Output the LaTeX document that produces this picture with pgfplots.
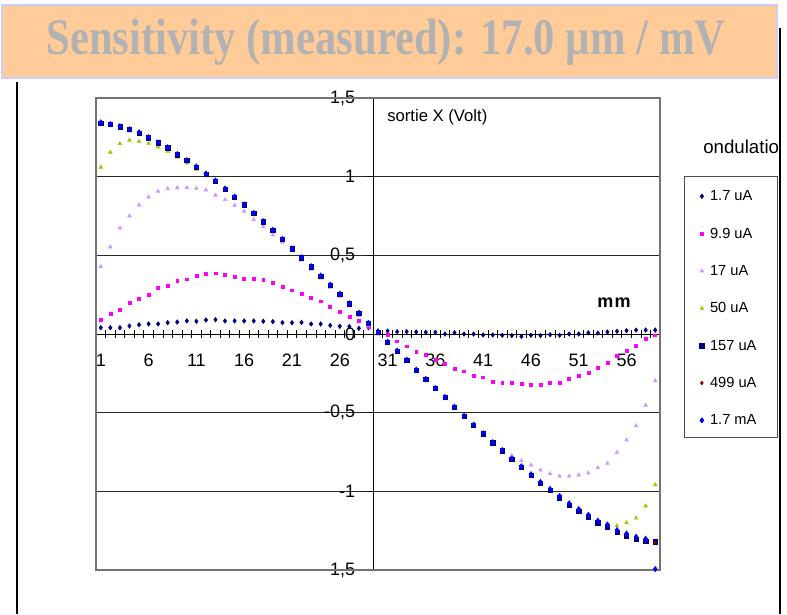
\documentclass[border=0pt]{standalone}
\usepackage{fontspec}
\setmainfont{Liberation Sans}
\newfontfamily\titlefont{Liberation Serif}
\usepackage{graphicx}
\usepackage{pgfplots}
\pgfplotsset{compat=1.18}
\usepackage{pgfplotstable}

\definecolor{navyx}{HTML}{000080}
\definecolor{magx}{HTML}{FF00FF}
\definecolor{lavx}{HTML}{CC99FF}
\definecolor{limex}{HTML}{99CC00}
\definecolor{redx}{HTML}{800000}
\definecolor{bluex}{HTML}{0000FF}
\definecolor{bannerx}{HTML}{FFCC99}
\definecolor{bannerline}{HTML}{CCCCFF}
\definecolor{titlegray}{HTML}{B2B2B2}

\pgfplotstableread{
k N M L G S R B
1 0.040 0.093 0.428 1.060 1.339 1.346 1.345
2 0.040 0.127 0.553 1.155 1.331 1.337 1.334
3 0.040 0.153 0.674 1.210 1.318 1.324 1.320
4 0.051 0.201 0.750 1.231 1.299 1.305 1.300
5 0.059 0.225 0.820 1.225 1.278 1.284 1.282
6 0.064 0.250 0.871 1.212 1.248 1.254 1.250
7 0.064 0.292 0.907 1.189 1.216 1.222 1.218
8 0.072 0.309 0.924 1.161 1.184 1.190 1.186
9 0.076 0.337 0.930 1.125 1.140 1.146 1.143
10 0.083 0.348 0.930 1.087 1.102 1.108 1.104
11 0.081 0.373 0.926 1.047 1.062 1.068 1.064
12 0.089 0.380 0.915 1.006 1.017 1.023 1.019
13 0.091 0.386 0.882 0.963 0.973 0.979 0.975
14 0.083 0.375 0.854 0.912 0.922 0.928 0.924
15 0.083 0.364 0.818 0.861 0.871 0.877 0.873
16 0.083 0.352 0.780 0.811 0.821 0.827 0.823
17 0.083 0.352 0.727 0.757 0.767 0.773 0.769
18 0.081 0.343 0.682 0.704 0.714 0.720 0.716
19 0.079 0.324 0.629 0.649 0.659 0.665 0.661
20 0.072 0.301 0.583 0.592 0.602 0.608 0.604
21 0.072 0.278 0.532 0.532 0.542 0.548 0.544
22 0.074 0.256 0.470 0.475 0.485 0.491 0.487
23 0.064 0.233 0.412 0.418 0.428 0.434 0.430
24 0.064 0.208 0.355 0.359 0.369 0.375 0.371
25 0.055 0.176 0.297 0.301 0.311 0.317 0.313
26 0.049 0.144 0.240 0.244 0.254 0.260 0.256
27 0.047 0.108 0.180 0.183 0.193 0.199 0.195
28 0.036 0.085 0.118 0.122 0.132 0.138 0.134
29 0.040 0.046 0.055 0.058 0.068 0.074 0.070
30 0.020 0.015 0.000 0.002 0.010 0.016 0.012
31 0.019 -0.006 -0.058 -0.059 -0.051 -0.047 -0.049
32 0.015 -0.046 -0.115 -0.116 -0.108 -0.104 -0.106
33 0.015 -0.078 -0.172 -0.173 -0.165 -0.161 -0.163
34 0.013 -0.112 -0.235 -0.237 -0.229 -0.225 -0.227
35 0.011 -0.131 -0.294 -0.296 -0.288 -0.284 -0.286
36 0.011 -0.163 -0.350 -0.353 -0.345 -0.341 -0.343
37 0.000 -0.191 -0.408 -0.411 -0.403 -0.399 -0.401
38 0.008 -0.218 -0.467 -0.472 -0.464 -0.460 -0.462
39 0.000 -0.237 -0.525 -0.531 -0.523 -0.519 -0.521
40 0.000 -0.265 -0.578 -0.586 -0.578 -0.574 -0.576
41 -0.006 -0.275 -0.632 -0.642 -0.634 -0.630 -0.631
42 -0.006 -0.301 -0.687 -0.699 -0.691 -0.687 -0.688
43 -0.008 -0.309 -0.735 -0.750 -0.742 -0.738 -0.738
44 -0.010 -0.312 -0.772 -0.805 -0.797 -0.793 -0.792
45 -0.015 -0.318 -0.805 -0.855 -0.847 -0.843 -0.841
46 -0.008 -0.324 -0.833 -0.906 -0.898 -0.894 -0.891
47 -0.010 -0.324 -0.865 -0.957 -0.949 -0.944 -0.941
48 -0.004 -0.307 -0.888 -1.002 -0.994 -0.989 -0.985
49 -0.008 -0.307 -0.903 -1.048 -1.040 -1.034 -1.030
50 0.000 -0.286 -0.903 -1.095 -1.087 -1.080 -1.076
51 0.000 -0.265 -0.896 -1.133 -1.125 -1.118 -1.113
52 0.008 -0.244 -0.884 -1.169 -1.161 -1.154 -1.149
53 0.006 -0.214 -0.850 -1.195 -1.200 -1.192 -1.187
54 0.013 -0.182 -0.822 -1.208 -1.225 -1.216 -1.211
55 0.017 -0.140 -0.752 -1.219 -1.261 -1.252 -1.246
56 0.021 -0.106 -0.674 -1.200 -1.284 -1.275 -1.268
57 0.025 -0.076 -0.583 -1.170 -1.305 -1.296 -1.289
58 0.025 -0.032 -0.453 -1.093 -1.318 -1.312 -1.302
59 0.025 -0.008 -0.297 -0.958 -1.320 -1.325 -1.494
}\datatab

\begin{document}
\begin{tikzpicture}
\begin{scope}[x=0.75pt,y=-0.75pt]
  \path[use as bounding box] (0,0) rectangle (787,614);
  \fill[white] (0,0) rectangle (787,614);
  \draw[black, line width=0.8pt] (17,82) -- (17,614);
  \draw[black, line width=0.8pt] (780,28) -- (780,614);
  \draw[bannerline, fill=bannerx, line width=1.5pt] (2,5) rectangle (777,78);
  \node[text=titlegray, font=\titlefont\bfseries\fontsize{32}{32}\selectfont] at (386,42)
     {\scalebox{1}[1.2]{Sensitivity (measured): 17.0 µm / mV}};
  \draw[black!70, line width=0.6pt] (684,176) rectangle (777,437);
  \node[anchor=base west, inner sep=0pt, font=\fontsize{14}{14}\selectfont] at (703,153) {ondulatio};
  \node[anchor=base west, inner sep=0pt, font=\fontsize{12.5}{13}\selectfont] at (387,121.7) {sortie X (Volt)};
  \node[inner sep=0pt, font=\bfseries\fontsize{13.5}{13.5}\selectfont] at (614,303) {m\kern1pt m};
\end{scope}

\begin{axis}[
  at={(72pt,-427.5pt)}, anchor=south west,
  scale only axis, width=423pt, height=354pt,
  xmin=-29, xmax=30, ymin=-1.5, ymax=1.5,
  axis x line=middle, axis y line=middle,
  every inner x axis line/.append style={-},
  every inner y axis line/.append style={-},
  axis line style={-, black, line width=0.7pt},
  hide obscured x ticks=false, hide obscured y ticks=false,
  xtick={-28.5,-23.5,-18.5,-13.5,-8.5,-3.5,1.5,6.5,11.5,16.5,21.5,26.5},
  xticklabels={1,6,11,16,21,26,31,36,41,46,51,56},
  major x tick style={draw=none},
  minor xtick={-29,-28,...,30},
  xtick align=center, minor tick length=6pt,
  ytick={-1.5,-1,-0.5,0,0.5,1,1.5},
  yticklabels={{-1,5},{-1},{-0,5},{0},{0,5},{1},{1,5}},
  ytick align=outside, major tick length=5pt,
  ymajorgrids, grid style={black!85, line width=0.5pt},
  tick style={black, line width=0.5pt},
  /pgf/number format/assume math mode=true,
  ticklabel style={font=\fontsize{13.5}{13.5}\selectfont},
  xticklabel style={yshift=-9pt},
  yticklabel style={xshift=-5pt},
  clip=false,
  legend image code/.code={\draw[mark repeat=2,mark phase=2] plot coordinates {(0pt,0pt)(3.4pt,0pt)(6.8pt,0pt)};},
  legend style={at={(axis description cs:1.070,0.8036)}, anchor=north west,
    draw=none, fill=none, inner sep=0pt, row sep=20pt,
    font=\fontsize{11}{11}\selectfont,
    nodes={inner sep=0pt, text height=7.5pt, text depth=0.5pt},
    /tikz/every odd column/.append style={column sep=4.5pt}},
  legend cell align=left,
]
\draw[black!55, line width=0.8pt] (rel axis cs:0,0) rectangle (rel axis cs:1,1);
\addplot[only marks, mark=diamond*, mark size=1.7pt, color=navyx] table[x expr=\thisrow{k}-29.5, y=N] {\datatab};
\addplot[only marks, mark=square*, mark size=1.1pt, color=magx] table[x expr=\thisrow{k}-29.5, y=M] {\datatab};
\addplot[only marks, mark=triangle*, mark size=1.6pt, color=lavx] table[x expr=\thisrow{k}-29.5, y=L] {\datatab};
\addplot[only marks, mark=triangle*, mark size=1.6pt, color=limex] table[x expr=\thisrow{k}-29.5, y=G] {\datatab};
\addplot[only marks, mark=square*, mark size=1.6pt, color=navyx] table[x expr=\thisrow{k}-29.5, y=S] {\datatab};
\addplot[only marks, mark=diamond*, mark size=1.4pt, color=redx] table[x expr=\thisrow{k}-29.5, y=R] {\datatab};
\addplot[only marks, mark=diamond*, mark size=2.0pt, color=bluex] table[x expr=\thisrow{k}-29.5, y=B] {\datatab};
\legend{1.7 uA, 9.9 uA, 17 uA, 50 uA, 157 uA, 499 uA, 1.7 mA}
\end{axis}
\end{tikzpicture}
\end{document}
